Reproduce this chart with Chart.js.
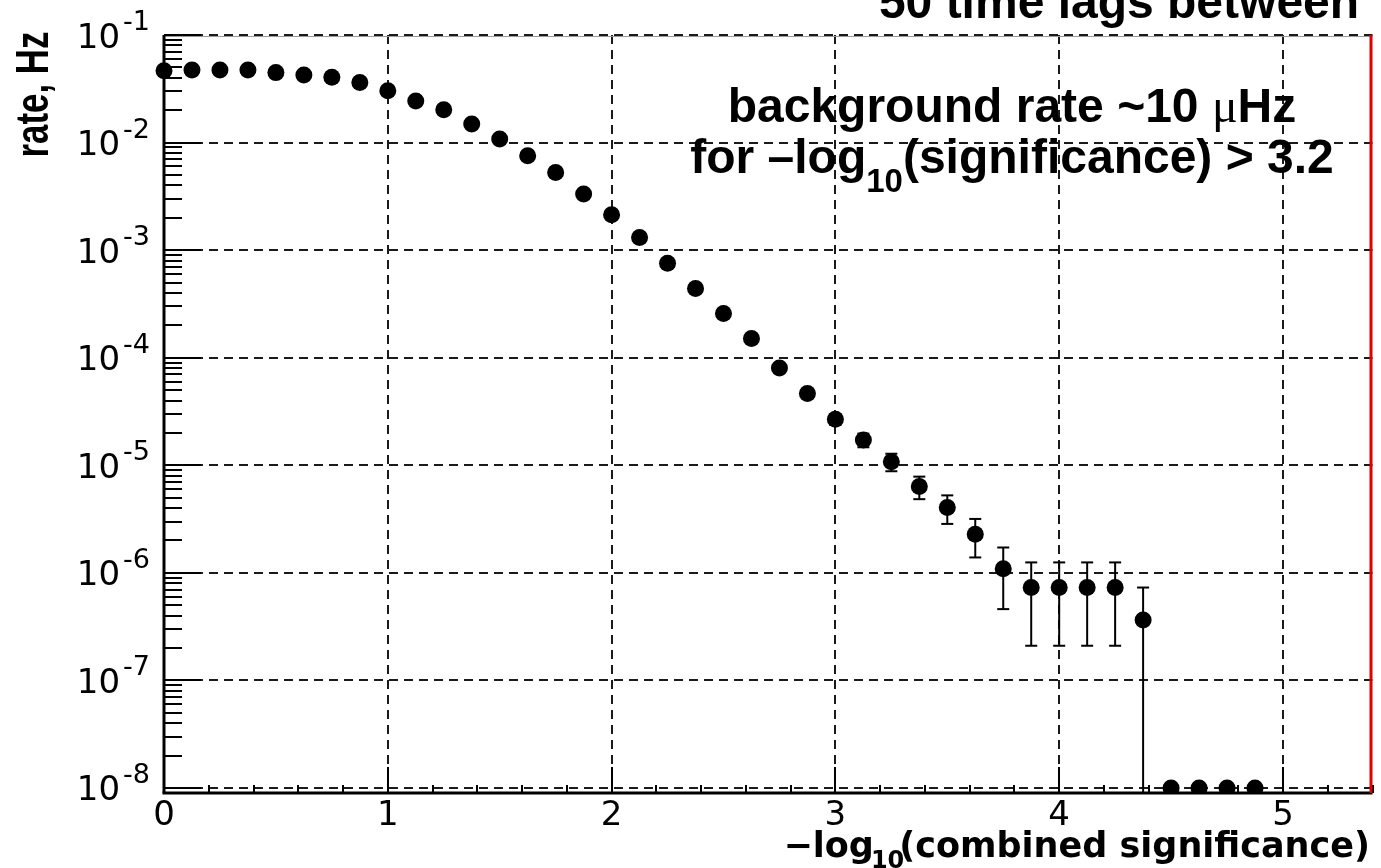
<!DOCTYPE html>
<html>
<head>
<meta charset="utf-8">
<script src="https://cdn.jsdelivr.net/npm/chart.js@4.4.1/dist/chart.umd.min.js"></script>
<style>
  html, body { margin: 0; padding: 0; background: #fff; }
  canvas { display: block; }
</style>
</head>
<body>
<canvas id="rateChart" width="1381" height="868"></canvas>
<script>
// bin positions on -log10(combined significance)
const binCenters = [
  0, 0.125, 0.25, 0.375, 0.5, 0.625, 0.75, 0.875,
  1, 1.125, 1.25, 1.375, 1.5, 1.625, 1.75, 1.875,
  2, 2.125, 2.25, 2.375, 2.5, 2.625, 2.75, 2.875,
  3, 3.125, 3.25, 3.375, 3.5, 3.625, 3.75, 3.875,
  4, 4.125, 4.25, 4.375, 4.5, 4.625, 4.75, 4.875
];

// rate, Hz (empty bins sit on the 1e-8 floor)
const rates = [
  0.0466, 0.0473, 0.0473, 0.0473, 0.0447, 0.0425, 0.0404, 0.0361,
  0.0303, 0.0243, 0.0202, 0.0149, 0.0108, 0.00754, 0.00528, 0.00332,
  0.00213, 0.00131, 0.000757, 0.000440, 0.000258, 0.000151, 8.04e-5, 4.65e-5,
  2.68e-5, 1.72e-5, 1.08e-5, 6.34e-6, 4.05e-6, 2.28e-6, 1.09e-6, 7.3e-7,
  7.3e-7, 7.3e-7, 7.3e-7, 3.65e-7, 1e-8, 1e-8, 1e-8, 1e-8
];

// symmetric error bars (0 = hidden under the marker)
const rateErrors = [
  0, 0, 0, 0, 0, 0, 0, 0,
  0, 0, 0, 0, 0, 0, 0, 0,
  0, 0, 0, 0, 0, 0, 5.4e-6, 4.1e-6,
  3.1e-6, 2.5e-6, 2.0e-6, 1.5e-6, 1.2e-6, 0.89e-6, 0.63e-6, 5.2e-7,
  5.2e-7, 5.2e-7, 5.2e-7, 3.65e-7, 0, 0, 0, 0
];

const xTickValues = [0, 1, 2, 3, 4, 5];
const yTickExponents = [-8, -7, -6, -5, -4, -3, -2, -1];
const yTickLabels = ['-8', '-7', '-6', '-5', '-4', '-3', '-2', '-1'];

const titleText = '50 time lags between';
const noteLine1 = ['background rate ~10 ', '\u03bc', 'Hz'];
const noteLine2 = ['for \u2013log', '10', '(significance) > 3.2'];
const xTitle = ['\u2212log', '10', '(combined significance)'];
const yTitle = 'rate, Hz';

function seg(ctx, x1, y1, x2, y2) {
  ctx.beginPath();
  ctx.moveTo(x1, y1);
  ctx.lineTo(x2, y2);
  ctx.stroke();
}

const decorations = {
  id: 'decorations',
  beforeDatasetsDraw(chart) {
    const { ctx, chartArea: a, scales: { x, y } } = chart;
    ctx.save();

    // dashed grid
    ctx.strokeStyle = '#1a1a1a';
    ctx.lineWidth = 2;
    ctx.setLineDash([9, 6]);
    yTickExponents.forEach(e => {
      const py = Math.round(y.getPixelForValue(Math.pow(10, e)));
      seg(ctx, a.left, py, a.right, py);
    });
    xTickValues.forEach(v => {
      if (v === 0) return;
      const px = Math.round(x.getPixelForValue(v));
      seg(ctx, px, a.top, px, a.bottom);
    });
    ctx.setLineDash([]);

    // error bars
    ctx.strokeStyle = '#000';
    ctx.lineWidth = 2;
    rates.forEach((r, i) => {
      const err = rateErrors[i];
      if (!err) return;
      const px = x.getPixelForValue(binCenters[i]);
      const top = y.getPixelForValue(r + err);
      const low = r - err;
      const bottom = low > y.min ? y.getPixelForValue(low) : a.bottom;
      seg(ctx, px, top, px, bottom);
      seg(ctx, px - 6, top, px + 6, top);
      if (low > y.min) seg(ctx, px - 6, bottom, px + 6, bottom);
    });
    ctx.restore();
  },

  afterDraw(chart) {
    const { ctx, chartArea: a, scales: { x, y } } = chart;
    ctx.save();

    // frame
    ctx.strokeStyle = '#9a9a9a';
    ctx.lineWidth = 1;
    seg(ctx, a.left, a.top + 1.5, a.right, a.top + 1.5);
    ctx.strokeStyle = '#000';
    ctx.lineWidth = 3;
    seg(ctx, a.left, a.top, a.left, a.bottom);
    seg(ctx, a.left - 1.5, a.bottom, a.right, a.bottom);

    // y ticks (log, major + minor)
    ctx.lineWidth = 2;
    for (let e = -9; e <= -1; e++) {
      for (let m = 1; m <= 9; m++) {
        const v = m * Math.pow(10, e);
        if (v < y.min || v > y.max * 1.0001) continue;
        const py = Math.round(y.getPixelForValue(v));
        seg(ctx, a.left, py, a.left + (m === 1 ? 37 : 18), py);
      }
    }

    // x ticks
    for (let k = 0; k * 0.2 <= x.max; k++) {
      const px = Math.round(x.getPixelForValue(k * 0.2));
      seg(ctx, px, a.bottom, px, a.bottom - (k % 5 === 0 ? 26 : 8));
    }

    // right edge
    ctx.strokeStyle = '#e00000';
    ctx.lineWidth = 3;
    seg(ctx, a.right - 1.5, a.top, a.right - 1.5, a.bottom);

    // y tick labels 10^n
    ctx.fillStyle = '#000';
    ctx.textAlign = 'left';
    ctx.textBaseline = 'alphabetic';
    const baseFont = '34px "DejaVu Sans"';
    const expFont = '27px "DejaVu Sans"';
    yTickExponents.forEach((e, i) => {
      const py = y.getPixelForValue(Math.pow(10, e));
      ctx.font = expFont;
      const we = ctx.measureText(yTickLabels[i]).width;
      ctx.font = baseFont;
      const wb = ctx.measureText('10').width;
      const right = 150;
      ctx.fillText('10', right - we - 3 - wb, py + 12.5);
      ctx.font = expFont;
      ctx.fillText(yTickLabels[i], right - we, py - 5);
    });

    // y title, rotated and narrowed
    ctx.save();
    ctx.translate(33, 94.5);
    ctx.rotate(-Math.PI / 2);
    ctx.font = 'bold 46px "Liberation Sans"';
    const wt = ctx.measureText(yTitle).width;
    ctx.scale(126 / wt, 1);
    ctx.textAlign = 'center';
    ctx.textBaseline = 'middle';
    ctx.fillText(yTitle, 0, 2);
    ctx.restore();

    // x title with subscript
    const mainX = 'bold 35px "DejaVu Sans"';
    const subX = 'bold 24px "DejaVu Sans"';
    ctx.font = mainX;
    const w1 = ctx.measureText(xTitle[0]).width;
    const w3 = ctx.measureText(xTitle[2]).width;
    ctx.font = subX;
    const w2 = ctx.measureText(xTitle[1]).width;
    let sx = 1370 - (w1 + w2 + w3 - 8);
    const baseX = 857;
    ctx.font = mainX;
    ctx.fillText(xTitle[0], sx, baseX);
    sx += w1;
    ctx.font = subX;
    ctx.fillText(xTitle[1], sx - 3, baseX + 11);
    sx += w2 - 8;
    ctx.font = mainX;
    ctx.fillText(xTitle[2], sx, baseX);

    // note text
    const noteFont = 'bold 48px "Liberation Sans"';
    const muFont = '48px "Liberation Serif"';
    const subFont = 'bold 33px "Liberation Sans"';
    const cx = 1012;
    ctx.font = noteFont;
    const a1 = ctx.measureText(noteLine1[0]).width;
    const a3 = ctx.measureText(noteLine1[2]).width;
    ctx.font = muFont;
    const a2 = ctx.measureText(noteLine1[1]).width;
    let lx = cx - (a1 + a2 + a3) / 2;
    ctx.font = noteFont;
    ctx.fillText(noteLine1[0], lx, 122);
    ctx.font = muFont;
    ctx.fillText(noteLine1[1], lx + a1, 122);
    ctx.font = noteFont;
    ctx.fillText(noteLine1[2], lx + a1 + a2, 122);

    ctx.font = noteFont;
    const b1 = ctx.measureText(noteLine2[0]).width;
    const b3 = ctx.measureText(noteLine2[2]).width;
    ctx.font = subFont;
    const b2 = ctx.measureText(noteLine2[1]).width;
    lx = cx - (b1 + b2 + b3) / 2;
    ctx.font = noteFont;
    ctx.fillText(noteLine2[0], lx, 173);
    ctx.font = subFont;
    ctx.fillText(noteLine2[1], lx + b1, 192);
    ctx.font = noteFont;
    ctx.fillText(noteLine2[2], lx + b1 + b2, 173);

    // title, clipped by the top of the page
    ctx.textAlign = 'center';
    ctx.fillText(titleText, 1119, 18);

    ctx.restore();
  }
};

const points = binCenters.map((v, i) => ({ x: v, y: rates[i] }));

new Chart(document.getElementById('rateChart'), {
  type: 'scatter',
  data: {
    datasets: [{
      data: points,
      backgroundColor: '#000',
      borderWidth: 0,
      pointRadius: 8.5,
      pointHoverRadius: 8.5,
      clip: { left: 12, top: 12, right: 12, bottom: 0 }
    }]
  },
  options: {
    responsive: false,
    animation: false,
    devicePixelRatio: 1,
    layout: { padding: { top: 35, right: 5, left: 0, bottom: 0 } },
    plugins: {
      legend: { display: false },
      tooltip: { enabled: false }
    },
    scales: {
      x: {
        type: 'linear',
        min: 0,
        max: 5.4,
        afterBuildTicks: s => { s.ticks = xTickValues.map(v => ({ value: v })); },
        afterFit: s => { s.height = 75; },
        grid: { display: false, drawTicks: false, tickLength: 0 },
        border: { display: false },
        ticks: {
          color: '#000',
          padding: 3,
          maxRotation: 0,
          autoSkip: false,
          font: { family: 'DejaVu Sans', size: 34 },
          callback: v => String(v)
        }
      },
      y: {
        type: 'logarithmic',
        min: 8.98e-9,
        max: 0.1,
        afterFit: s => { s.width = 164; },
        grid: { display: false, drawTicks: false },
        border: { display: false },
        ticks: { display: false }
      }
    }
  },
  plugins: [decorations]
});
</script>
</body>
</html>
